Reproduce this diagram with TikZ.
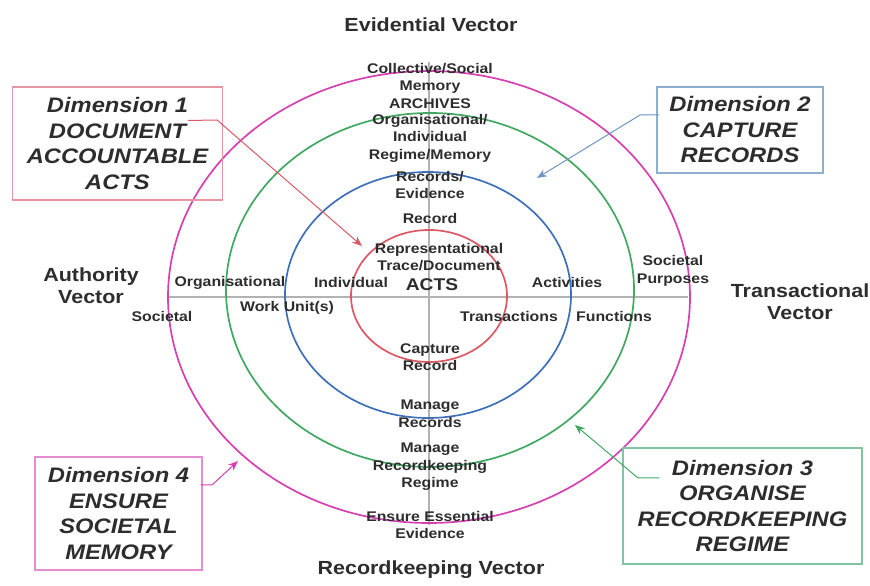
\documentclass[tikz,border=0pt]{standalone}
\usepackage{fontspec}
\setmainfont[FakeStretch=1.13]{Liberation Sans}
\usetikzlibrary{positioning, arrows.meta}
\definecolor{ringmag}{RGB}{214,64,176}
\definecolor{ringgreen}{RGB}{64,168,96}
\definecolor{ringblue}{RGB}{62,112,186}
\definecolor{ringred}{RGB}{220,88,100}
\definecolor{boxred}{RGB}{230,150,160}
\definecolor{boxblue}{RGB}{140,175,205}
\definecolor{boxgreen}{RGB}{130,195,160}
\definecolor{boxmag}{RGB}{230,140,210}
\definecolor{ink}{RGB}{45,45,45}
\tikzset{
  ring/.style={line width=1.7pt}, % the four continuum rings
  axis/.style={draw=black!30, line width=1.8pt}, % the two crossing axes
  lbl/.style={font=\fontsize{14}{17.5}\selectfont\bfseries, text=ink, align=center, inner sep=0pt}, % small labels on the axes
  vec/.style={font=\fontsize{19}{22}\selectfont\bfseries, text=ink, align=center, inner sep=0pt}, % names of the vectors
  dim/.style={draw, line width=1.2pt, font=\fontsize{21}{25.5}\selectfont\bfseries\itshape, text=ink, align=center, inner sep=0pt}, % dimension boxes
  pointer/.style={-{Stealth[length=10pt, width=8pt]}, line width=1pt}, % lines from boxes to rings
}
\begin{document}
\begin{tikzpicture}[x=1pt, y=1pt]
	  \useasboundingbox (0,0) rectangle (870,586);
	  \coordinate (c) at (429,289);
	  % axes
	  \coordinate (w) at (167,289);
	  \coordinate (e) at (688,289);
	  \coordinate (n) at (429,524);
	  \coordinate (s) at (429,61);
	  \draw[axis] (w) -- (e);
	  \draw[axis] (n) -- (s);
	  % rings
	  \draw[ring, draw=ringmag] (c) ellipse [x radius=261, y radius=226];
	  \draw[ring, draw=ringgreen] (430,296) ellipse [x radius=204, y radius=177];
	  \draw[ring, draw=ringblue] (428,291) ellipse [x radius=143, y radius=123];
	  \draw[ring, draw=ringred] (429,290) ellipse [x radius=78, y radius=66];
	  % labels along the vertical axis
	  \node[lbl, xshift=1pt, yshift=211pt] (arch) at (c) {Collective/Social\\Memory\\ARCHIVES};
	  \node[lbl, xshift=1pt, yshift=159pt] (regmem) at (c) {Organisational/\\Individual\\Regime/Memory};
	  \node[lbl, xshift=1pt, yshift=112pt] (recev) at (c) {Records/\\Evidence};
	  \node[lbl, xshift=1pt, yshift=78pt] (rec) at (c) {Record};
	  \node[lbl, xshift=10pt, yshift=40pt] (repr) at (c) {Representational\\Trace/Document};
	  \node[lbl, font=\fontsize{17}{20}\selectfont\bfseries, xshift=3pt, yshift=12pt] (acts) at (c) {ACTS};
	  \node[lbl, xshift=1pt, yshift=-60pt] (capture) at (c) {Capture\\Record};
	  \node[lbl, xshift=1pt, yshift=-117pt] (manrec) at (c) {Manage\\Records};
	  \node[lbl, xshift=1pt, yshift=-170pt] (manrk) at (c) {Manage\\Recordkeeping\\Regime};
	  \node[lbl, xshift=1pt, yshift=-228pt] (ensure) at (c) {Ensure Essential\\Evidence};
	  % labels along the horizontal axis
	  \node[lbl, xshift=-78pt, yshift=14pt] (indiv) at (c) {Individual};
	  \node[lbl, xshift=-199pt, yshift=14pt] (org) at (c) {Organisational};
	  \node[lbl, xshift=-142pt, yshift=-11pt] (workunit) at (c) {Work Unit(s)};
	  \node[lbl, xshift=-267pt, yshift=-20pt] (societal) at (c) {Societal};
	  \node[lbl, xshift=138pt, yshift=14pt] (activities) at (c) {Activities};
	  \node[lbl, xshift=80pt, yshift=-19pt] (transactions) at (c) {Transactions};
	  \node[lbl, xshift=185pt, yshift=-19pt] (functions) at (c) {Functions};
	  \node[lbl, xshift=244pt, yshift=26pt] (purposes) at (c) {Societal\\Purposes};
	  % vectors
	  \node[vec, xshift=2pt, yshift=272pt] (evid) at (c) {Evidential Vector};
	  \node[vec, xshift=-338pt, yshift=11pt] (auth) at (c) {Authority\\Vector};
	  \node[vec, xshift=371pt, yshift=-5pt] (trans) at (c) {Transactional\\Vector};
	  \node[vec, xshift=2pt, yshift=-273pt] (rk) at (c) {Recordkeeping Vector};
	  % dimensions
	  \node[dim, draw=boxred, minimum width=210pt, minimum height=113pt] (d1) at (117.5,442.5) {Dimension 1\\DOCUMENT\\ACCOUNTABLE\\ACTS};
	  \node[dim, draw=boxblue, minimum width=166pt, minimum height=86pt] (d2) at (740,456) {Dimension 2\\CAPTURE\\RECORDS};
	  \node[dim, draw=boxgreen, minimum width=239pt, minimum height=116pt] (d3) at (742.5,80) {Dimension 3\\ORGANISE\\RECORDKEEPING\\REGIME};
	  \node[dim, draw=boxmag, minimum width=167pt, minimum height=113pt] (d4) at (118.5,72.5) {Dimension 4\\ENSURE\\SOCIETAL\\MEMORY};
	  % pointers
	  \coordinate (k1) at (217,466);
	  \coordinate (t1) at (362,340);
	  \coordinate (k2) at (640,471);
	  \coordinate (t2) at (537,408);
	  \coordinate (k3) at (638,108);
	  \coordinate (t3) at (575,161);
	  \coordinate (k4) at (212,101);
	  \coordinate (t4) at (238,125);
	  \draw[pointer, draw=ringred] ([xshift=-35pt, yshift=23pt]d1.east) -- (k1) -- (t1);
	  \draw[pointer, draw=boxblue!60!ringblue] ([xshift=3pt, yshift=15pt]d2.west) -- (k2) -- (t2);
	  \draw[pointer, draw=ringgreen] ([xshift=37pt, yshift=28pt]d3.west) -- (k3) -- (t3);
	  \draw[pointer, draw=ringmag] ([xshift=-2pt, yshift=28.5pt]d4.east) -- (k4) -- (t4);
	  \end{tikzpicture}
\end{document}
